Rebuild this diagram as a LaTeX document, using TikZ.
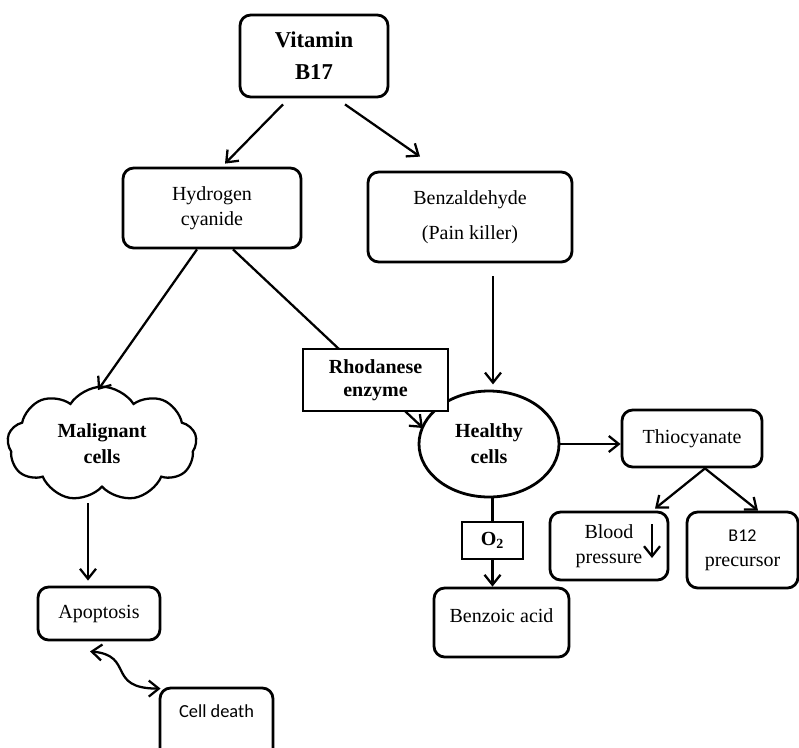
\documentclass[tikz,border=0pt]{standalone}
\usepackage{fontspec}
\setmainfont{Liberation Serif}
\newfontfamily\calfont{Carlito}
\usetikzlibrary{arrows.meta,shapes.geometric,shapes.symbols,calc}
\begin{document}
\begin{tikzpicture}[x=0.75pt,y=-0.75pt,
  font=\fontsize{15}{18.5}\selectfont,
  rbox/.style={draw,line width=2.1pt,rounded corners=8pt,align=center,inner sep=0pt,fill=white},
  sbox/.style={draw,line width=1pt,align=center,inner sep=0pt,fill=white},
  arr/.style={line width=1.7pt,-{Straight Barb[length=7.5pt,width=12pt,line width=1.7pt]}},
  barr/.style={line width=1.7pt,{Straight Barb[length=7.5pt,width=12pt,line width=1.7pt]}-{Straight Barb[length=7.5pt,width=12pt,line width=1.7pt]}},
  plain/.style={line width=1.7pt}]
\useasboundingbox (0,0) rectangle (799,747);
\clip (0,0) rectangle (799,747);
% nodes
\node[rbox,minimum width=111pt,minimum height=61.5pt,font=\fontsize{17}{20}\selectfont] (vit) at (314,56)
  {\textbf{Vitamin}\\[4pt]\textbf{B17}};
\node[rbox,minimum width=133.5pt,minimum height=60pt] (hcn) at (212,208)
  {Hydrogen\\cyanide};
\node[rbox,minimum width=153pt,minimum height=67.5pt] (benz) at (470,217)
  {Benzaldehyde\\[8pt](Pain killer)};
\node[draw,ellipse,line width=2.1pt,minimum width=105pt,minimum height=79.5pt,inner sep=0pt,align=center,fill=white] (healthy) at (489,444)
  {\textbf{Healthy}\\[1pt]\textbf{cells}};
\node[draw,cloud,cloud puffs=9,cloud puff arc=115,aspect=1.6,line width=1.7pt,minimum width=142pt,minimum height=86pt,inner sep=0pt,align=center,fill=white] (cloud) at (102,444)
  {\textbf{Malignant}\\[1pt]\textbf{cells}};
\node[rbox,minimum width=91.5pt,minimum height=39.75pt] (apop) at (99,613.5) {Apoptosis};
\node[rbox,minimum width=84.75pt,minimum height=57pt,label={[yshift=11pt]center:{\calfont\fontsize{13.8}{16}\selectfont Cell death}}] (death) at (216.5,726) {};
\node[sbox,minimum width=45.75pt,minimum height=27.75pt] (o2) at (492.5,540.5) {\textbf{O\textsubscript{2}}};
\node[rbox,minimum width=101.25pt,minimum height=51.75pt,label={[yshift=5pt]center:Benzoic acid}] (benzoic) at (501.5,622.5) {};
\node[rbox,minimum width=105pt,minimum height=42.75pt] (thio) at (692,438.5) {\raisebox{3pt}{Thiocyanate}};
\node[rbox,minimum width=88.5pt,minimum height=51pt] (blood) at (609,546) {Blood\\pressure};
\node[rbox,minimum width=83.25pt,minimum height=57pt] (b12) at (742.5,550) {{\calfont\fontsize{13.5}{16}\selectfont B12}\\precursor};
% connectors
\draw[arr] ($(vit.south)+(-31,6)$) -- ($(hcn.north)+(13,-3)$);
\draw[arr] ($(vit.south)+(31,6)$) -- ($(benz.north)+(-50,-14)$);
\draw[arr] ($(hcn.south)+(-15,0)$) -- ($(cloud.center)+(-4,-54)$);
\draw[arr] ($(hcn.south)+(21,0)$) -- ($(healthy.center)+(-66,-16)$);
\node[sbox,minimum width=108.75pt,minimum height=46.5pt] (rhod) at (375.5,380)
  {\textbf{Rhodanese}\\[-1pt]\textbf{enzyme}};
\draw[arr] ($(benz.south)+(23,13)$) -- ($(benz.south)+(23,121)$);
\draw[arr] (healthy.east) -- (healthy.east -| thio.west);
\draw[plain] (o2.north |- healthy.south) -- (o2.north);
\draw[arr] (o2.south) -- (o2.south |- benzoic.north);
\draw[arr] ($(thio.south)+(13,0)$) -- ($(blood.north)+(46,-2)$);
\draw[arr] ($(thio.south)+(13,0)$) -- ($(b12.north)+(15.5,0)$);
\draw[arr] ($(cloud.center)+(-14,59)$) -- ($(apop.north)+(-11,-5)$);
\draw[barr] ($(apop.south)+(-9,10)$) .. controls +(45,4) and +(-55,0) .. ($(death.north west)+(2,2)$);
\draw[arr] ($(blood.center)+(43,-22)$) -- ($(blood.center)+(43,12)$);
\end{tikzpicture}
\end{document}
